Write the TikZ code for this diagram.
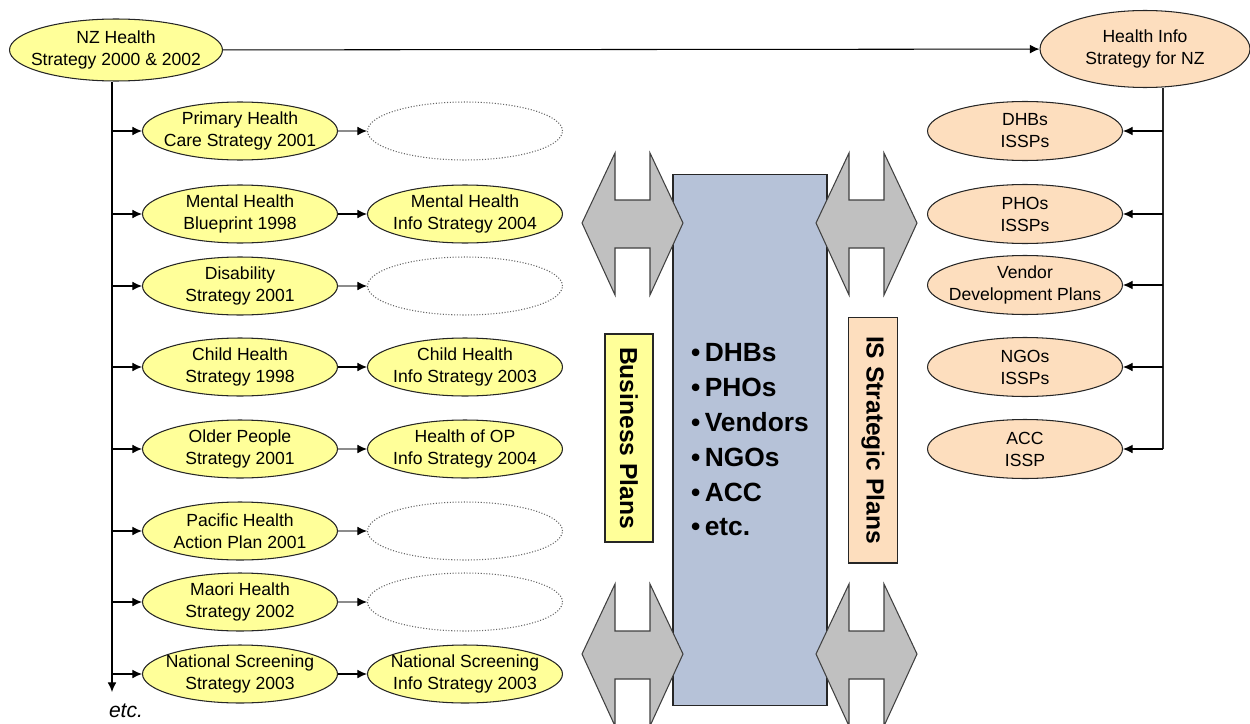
\documentclass[tikz,border=0pt]{standalone}
\usepackage{fontspec}
\setmainfont{Liberation Sans}
\usetikzlibrary{shapes.geometric, arrows.meta}
\definecolor{stratyellow}{RGB}{255,255,153}
\definecolor{infopeach}{RGB}{253,222,190}
\definecolor{orgblue}{RGB}{182,194,216}
\definecolor{twowaygray}{RGB}{192,192,192}

\begin{document}
\begin{tikzpicture}[
    x=0.02cm, y=-0.02cm,
    every node/.style={font=\fontsize{10}{12.5}\selectfont, align=center},
    strat/.style={ellipse, draw=black!85, fill=stratyellow, line width=0.6pt,
                  minimum width=3.9cm, minimum height=1.16cm, inner xsep=-6pt, inner ysep=0pt},
    isplan/.style={strat, fill=infopeach, minimum height=1.18cm},
    blank/.style={ellipse, draw=black!60, densely dotted, fill=white, line width=0.6pt,
                  minimum width=3.9cm, minimum height=1.16cm},
    planbox/.style={rectangle, draw=black!85, line width=0.6pt, inner sep=0pt,
                    font=\fontsize{14}{16}\selectfont\bfseries, rotate=-90},
    arr/.style={-{Latex[length=5.5pt, width=5pt]}, line width=0.6pt, black},
    faint/.style={-{Latex[length=5.5pt, width=5pt, black]}, line width=0.6pt, black!45},
    twoway/.style={draw=black!75, fill=twowaygray, line width=0.6pt, line join=miter},
]
    \useasboundingbox (0,0) rectangle (1250,723);
    \clip (0,0) rectangle (1250,723);

    % top level strategies
    \node[strat, minimum width=4.26cm, minimum height=1.24cm] (nz) at (116,50) {NZ Health \\ Strategy 2000 \& 2002};
    \node[isplan, minimum width=4.2cm, minimum height=1.54cm] (hi) at (1145,49) {Health Info \\ Strategy for NZ};
    \draw[arr] (nz) -- (hi);

    % business strategies
    \node[strat] (phc) at (240,131) {Primary Health \\ Care Strategy 2001};
    \node[strat] (mhb) at (240,214) {Mental Health \\ Blueprint 1998};
    \node[strat] (dis) at (240,286) {Disability \\ Strategy 2001};
    \node[strat] (chs) at (240,367) {Child Health \\ Strategy 1998};
    \node[strat] (ops) at (240,449) {Older People \\ Strategy 2001};
    \node[strat] (pac) at (240,531) {Pacific Health \\ Action Plan 2001};
    \node[strat] (mao) at (240,602) {Maori Health \\ Strategy 2002};
    \node[strat] (nss) at (240,674) {National Screening \\ Strategy 2003};

    % info strategies
    \node[blank] (phcinfo) at (465,131) {};
    \node[strat] (mhinfo) at (465,214) {Mental Health \\ Info Strategy 2004};
    \node[blank] (disinfo) at (465,286) {};
    \node[strat] (chinfo) at (465,367) {Child Health \\ Info Strategy 2003};
    \node[strat] (opinfo) at (465,449) {Health of OP \\ Info Strategy 2004};
    \node[blank] (pacinfo) at (465,531) {};
    \node[blank] (maoinfo) at (465,602) {};
    \node[strat] (nssinfo) at (465,674) {National Screening \\ Info Strategy 2003};

    % trunk on the left
    \coordinate (ltrunk) at (112,692);
    \node[font=\fontsize{12}{14}\selectfont\itshape] (etc) at (126,711) {etc.};
    \draw[arr] (nz.south -| ltrunk) -- (ltrunk);
    \draw[arr] (ltrunk |- phc.west) -- (phc.west);
    \draw[arr] (ltrunk |- mhb.west) -- (mhb.west);
    \draw[arr] (ltrunk |- dis.west) -- (dis.west);
    \draw[arr] (ltrunk |- chs.west) -- (chs.west);
    \draw[arr] (ltrunk |- ops.west) -- (ops.west);
    \draw[arr] (ltrunk |- pac.west) -- (pac.west);
    \draw[arr] (ltrunk |- mao.west) -- (mao.west);
    \draw[arr] (ltrunk |- nss.west) -- (nss.west);

    \draw[faint] (phc) -- (phcinfo);
    \draw[arr] (mhb) -- (mhinfo);
    \draw[faint] (dis) -- (disinfo);
    \draw[arr] (chs) -- (chinfo);
    \draw[faint] (ops) -- (opinfo);
    \draw[faint] (pac) -- (pacinfo);
    \draw[faint] (mao) -- (maoinfo);
    \draw[arr] (nss) -- (nssinfo);

    % IS strategic plans
    \node[isplan] (dhb) at (1025,131) {DHBs \\ ISSPs};
    \node[isplan] (pho) at (1025,214) {PHOs \\ ISSPs};
    \node[isplan] (ven) at (1025,285) {Vendor \\ Development Plans};
    \node[isplan] (ngo) at (1025,367) {NGOs \\ ISSPs};
    \node[isplan] (acc) at (1025,449) {ACC \\ ISSP};

    \coordinate (rtrunk) at (1163,449);
    \draw[line width=0.6pt, black!85] (hi.south -| rtrunk) -- (rtrunk);
    \draw[arr] (rtrunk |- dhb.east) -- (dhb.east);
    \draw[arr] (rtrunk |- pho.east) -- (pho.east);
    \draw[arr] (rtrunk |- ven.east) -- (ven.east);
    \draw[arr] (rtrunk |- ngo.east) -- (ngo.east);
    \draw[arr] (acc.east -| rtrunk) -- (acc.east);

    % organisations
    \node[rectangle, draw=black!85, fill=orgblue, line width=0.6pt,
          minimum width=3.08cm, minimum height=10.64cm, align=left,
          font=\fontsize{15}{19.8}\selectfont\bfseries] (orgs) at (750,440)
        {\textbullet\,DHBs \\ \textbullet\,PHOs \\ \textbullet\,Vendors \\
         \textbullet\,NGOs \\ \textbullet\,ACC \\ \textbullet\,etc.};

    % two-way links
    \draw[twoway] (582,223) -- ++(33,-70) -- ++(0,47) -- ++(35,0) -- ++(0,-47) -- ++(33,70)
        -- ++(-33,72) -- ++(0,-47) -- ++(-35,0) -- ++(0,47) -- cycle;
    \draw[twoway] (816,223) -- ++(33,-70) -- ++(0,47) -- ++(35,0) -- ++(0,-47) -- ++(33,70)
        -- ++(-33,72) -- ++(0,-47) -- ++(-35,0) -- ++(0,47) -- cycle;
    \draw[twoway] (582,654) -- ++(33,-70) -- ++(0,47) -- ++(35,0) -- ++(0,-47) -- ++(33,70)
        -- ++(-33,72) -- ++(0,-47) -- ++(-35,0) -- ++(0,47) -- cycle;
    \draw[twoway] (816,654) -- ++(33,-70) -- ++(0,47) -- ++(35,0) -- ++(0,-47) -- ++(33,70)
        -- ++(-33,72) -- ++(0,-47) -- ++(-35,0) -- ++(0,47) -- cycle;

    % plan labels
    \node[planbox, fill=stratyellow, minimum width=4.16cm, minimum height=0.96cm] (biz) at (629,438) {Business Plans};
    \node[planbox, fill=infopeach, minimum width=4.92cm, minimum height=0.98cm] (isp) at (873,440) {IS Strategic Plans};
\end{tikzpicture}
\end{document}
